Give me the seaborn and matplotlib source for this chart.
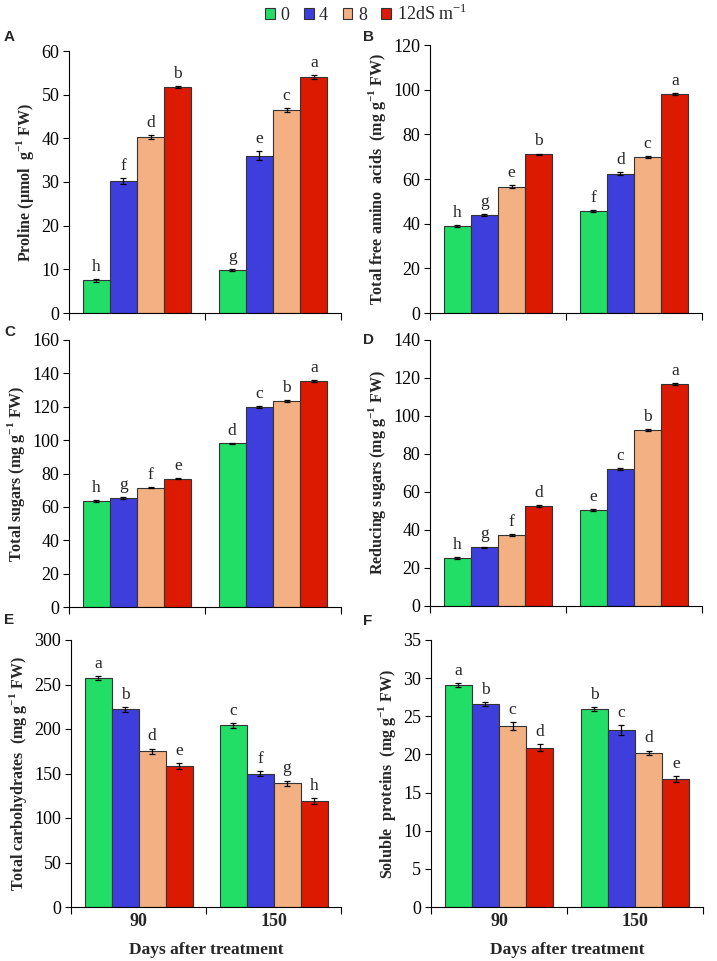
import numpy as np
import pandas as pd
import matplotlib
matplotlib.use("Agg")
import matplotlib.pyplot as plt
from matplotlib.patches import Patch
import seaborn as sns

# days after treatment and salinity levels
days = ["90", "150"]
salinity = ["0", "4", "8", "12"]
legend_labels = ["0", "4", "8", "12dS m$^{-1}$"]
colors = ["#22DD66", "#3E3EDD", "#F2B083", "#DC1A02"]

# values per panel: rows = days, cols = salinity
proline = [[7.5, 30.2, 40.3, 51.8], [9.8, 36.0, 46.5, 54.0]]
proline_err = [[0.3, 0.7, 0.4, 0.2], [0.2, 1.0, 0.4, 0.5]]
proline_let = [["h", "f", "d", "b"], ["g", "e", "c", "a"]]

amino = [[39.0, 44.0, 56.5, 71.0], [45.5, 62.3, 69.7, 98.0]]
amino_err = [[0.4, 0.4, 0.7, 0.4], [0.4, 0.7, 0.4, 0.4]]
amino_let = [["h", "g", "e", "b"], ["f", "d", "c", "a"]]

sugars = [[63.5, 65.5, 71.5, 77.0], [98.0, 120.0, 123.5, 135.5]]
sugars_err = [[0.5, 0.5, 0.4, 0.5], [0.4, 0.6, 0.4, 0.6]]
sugars_let = [["h", "g", "f", "e"], ["d", "c", "b", "a"]]

reducing = [[25.3, 30.8, 37.3, 52.8], [50.5, 72.3, 92.7, 116.7]]
reducing_err = [[0.3, 0.5, 0.5, 0.5], [0.5, 0.5, 0.5, 0.5]]
reducing_let = [["h", "g", "f", "d"], ["e", "c", "b", "a"]]

carbs = [[257.0, 222.0, 175.0, 158.0], [204.0, 150.0, 139.0, 119.0]]
carbs_err = [[2.5, 3.0, 3.0, 3.5], [3.0, 3.0, 3.0, 3.0]]
carbs_let = [["a", "b", "d", "e"], ["c", "f", "g", "h"]]

proteins = [[29.1, 26.6, 23.7, 20.9], [26.0, 23.2, 20.2, 16.8]]
proteins_err = [[0.3, 0.25, 0.5, 0.45], [0.25, 0.6, 0.3, 0.4]]
proteins_let = [["a", "b", "c", "d"], ["b", "c", "d", "e"]]

sns.set_style("ticks")
plt.rcParams['font.family'] = ['Liberation Serif', 'DejaVu Serif']
plt.rcParams['mathtext.fontset'] = 'custom'
plt.rcParams['mathtext.rm'] = 'Liberation Serif'
plt.rcParams['mathtext.bf'] = 'Liberation Serif:bold'

W, H = 717, 961
fig = plt.figure(figsize=(W / 100, H / 100), dpi=100)

# (letter, vals, errs, letters, ylabel, ymax, step, box in px: left, top, right, bottom)
panels = [
    ("A", proline, proline_err, proline_let, r"Proline (µmol  g$^{\mathbf{-1}}$ FW)", 60, 10, (69, 51, 341, 313)),
    ("B", amino, amino_err, amino_let, r"Total free amino  acids  (mg g$^{\mathbf{-1}}$ FW)", 120, 20, (430, 45, 702, 313)),
    ("C", sugars, sugars_err, sugars_let, r"Total sugars (mg g$^{\mathbf{-1}}$ FW)", 160, 20, (69, 340, 341, 607)),
    ("D", reducing, reducing_err, reducing_let, r"Reducing sugars (mg g$^{\mathbf{-1}}$ FW)", 140, 20, (430, 340, 702, 606)),
    ("E", carbs, carbs_err, carbs_let, r"Total carbohydrates  (mg g$^{\mathbf{-1}}$ FW)", 300, 50, (71, 640, 341, 907)),
    ("F", proteins, proteins_err, proteins_let, r"Soluble  proteins  (mg g$^{\mathbf{-1}}$ FW)", 35, 5, (431, 640, 703, 907)),
]

letter_pos = {"A": (4, 37), "B": (363, 37), "C": (4, 332), "D": (363, 340), "E": (4, 620), "F": (363, 621)}

for name, vals, errs, lets, ylab, ymax, step, box in panels:
    l, t, r, b = box
    ax = fig.add_axes([l / W, 1 - b / H, (r - l) / W, (b - t) / H])
    rows = []
    for i, d in enumerate(days):
        for j, s in enumerate(salinity):
            rows.append({"day": d, "sal": s, "val": vals[i][j], "err": errs[i][j], "let": lets[i][j]})
    df = pd.DataFrame(rows)
    sns.barplot(data=df, x="day", y="val", hue="sal", order=days, hue_order=salinity,
                palette=colors, errorbar=None, width=0.8, edgecolor="#333333",
                linewidth=0.8, saturation=1, legend=False, ax=ax)
    # match bars (sorted by x) to rows ordered day then salinity
    bars = sorted(ax.patches, key=lambda p: p.get_x())
    for p, (_, row) in zip(bars, df.iterrows()):
        cx = p.get_x() + p.get_width() / 2
        ax.errorbar(cx, row["val"], yerr=row["err"], color="black", capsize=2.5,
                    elinewidth=0.9, capthick=0.9)
        ax.annotate(row["let"], (cx, row["val"] + row["err"]), xytext=(0, 3),
                    textcoords="offset points", ha="center", va="bottom", fontsize=12.5)
    ax.set_xlim(-0.5, 1.5)
    ax.set_ylim(0, ymax)
    ax.set_yticks(np.arange(0, ymax + 0.1, step))
    ax.tick_params(axis="y", labelsize=13, length=4, width=0.8, colors="black", pad=3)
    ax.set_xticks([-0.5, 0.5, 1.5], minor=True)
    ax.tick_params(axis="x", which="minor", length=5, width=0.8, direction="out", colors="black")
    ax.set_xlabel("")
    if name in ("E", "F"):
        ax.set_xticks([0, 1], days)
        ax.tick_params(axis="x", which="major", length=0, labelsize=13, pad=4)
        for lab in ax.get_xticklabels():
            lab.set_fontweight("bold")
        ax.set_xlabel("Days after treatment", fontsize=12.5, fontweight="bold", labelpad=9)
    else:
        ax.set_xticks([])
    ax.set_ylabel(ylab, fontsize=11.5, fontweight="bold", labelpad=4)
    for sp in ["top", "right"]:
        ax.spines[sp].set_visible(False)
    for sp in ["left", "bottom"]:
        ax.spines[sp].set_color("black")
        ax.spines[sp].set_linewidth(0.8)
    lx, ly = letter_pos[name]
    fig.text(lx / W, 1 - ly / H, name, fontsize=11, fontweight="bold",
             family=["Liberation Sans", "DejaVu Sans"], ha="left", va="center")

handles = [Patch(facecolor=c, edgecolor="#333333", linewidth=0.8) for c in colors]
fig.legend(handles, legend_labels, loc="center", bbox_to_anchor=(366 / W, 1 - 14 / H),
           ncol=4, frameon=False, fontsize=13, handlelength=0.55, handleheight=0.55,
           handletextpad=0.3, columnspacing=0.8, borderpad=0)

fig.savefig("out.png", dpi=100)
